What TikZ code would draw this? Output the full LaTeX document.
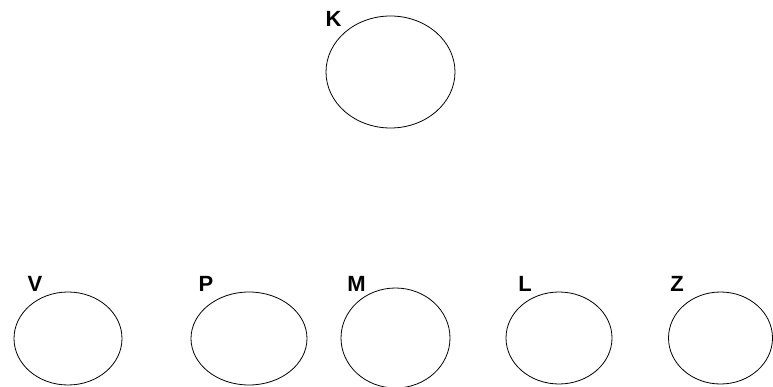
\documentclass[tikz,border=0pt]{standalone}
\usepackage{fontspec}
\setmainfont{Liberation Sans}
\usetikzlibrary{shapes.geometric}
\begin{document}
\begin{tikzpicture}[x=1pt,y=-1pt,
  blob/.style={draw=black,line width=0.8pt,ellipse,inner sep=0pt},
  tag/.style={font=\fontsize{22}{22}\selectfont\bfseries,inner sep=0pt,anchor=center}]
\useasboundingbox (0,0) rectangle (773,387);
\node[blob,minimum width=129pt,minimum height=112pt] (k) at (390.5,72) {};
\node[blob,minimum width=108pt,minimum height=93pt] (v) at (68,338.5) {};
\node[blob,minimum width=116pt,minimum height=93pt] (p) at (249,338.5) {};
\node[blob,minimum width=109pt,minimum height=100pt] (m) at (395.5,338) {};
\node[blob,minimum width=106pt,minimum height=92pt] (l) at (559,338) {};
\node[blob,minimum width=104pt,minimum height=92pt] (z) at (720.5,338) {};
\node[tag] (kt) at (333.5,18.5) {K};
\node[tag] (vt) at (35,283.5) {V};
\node[tag] (pt) at (206,283.5) {P};
\node[tag] (mt) at (356.5,283.5) {M};
\node[tag] (lt) at (525,283.5) {L};
\node[tag] (zt) at (677,283.5) {Z};
\end{tikzpicture}
\end{document}
